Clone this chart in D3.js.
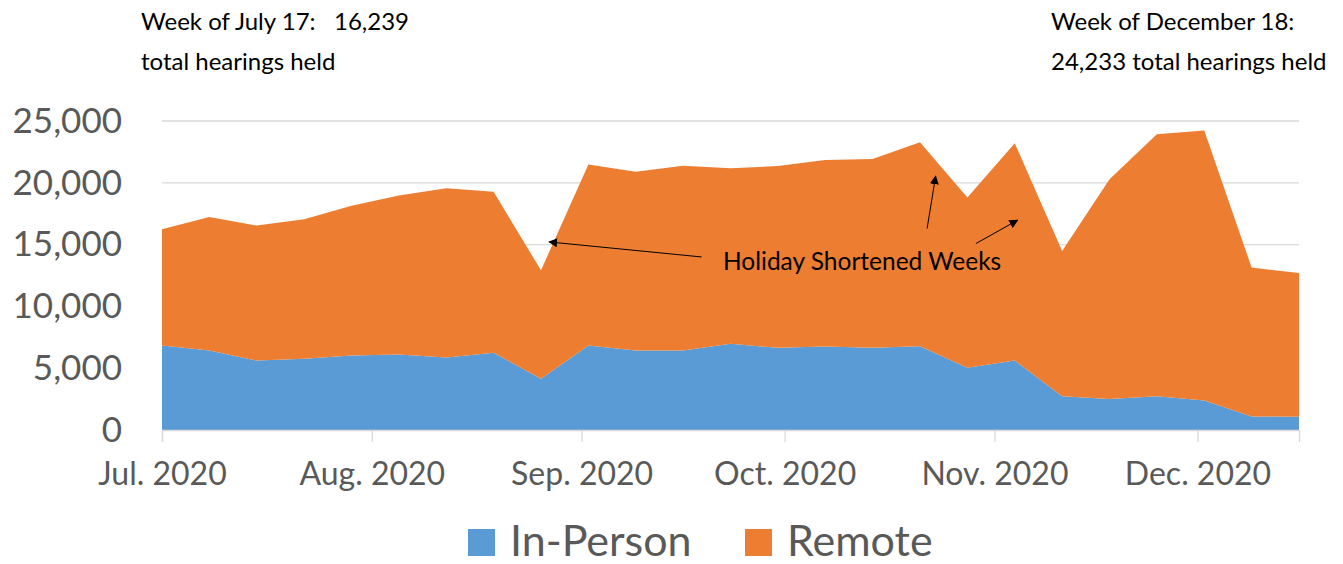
<!DOCTYPE html>
<html>
<head>
<meta charset="utf-8">
<script src="https://cdn.jsdelivr.net/npm/d3@7.9.0/dist/d3.min.js"></script>
<style>
  html, body { margin: 0; padding: 0; background: #fff; }
  svg { display: block; font-family: Lato, "Open Sans", sans-serif; }
</style>
</head>
<body>
<svg id="chart" width="1343" height="564"></svg>
<script>
// weekly hearings, week starting on the given Friday
const weeks = [
  '2020-07-17', '2020-07-24', '2020-07-31', '2020-08-07', '2020-08-14',
  '2020-08-21', '2020-08-28', '2020-09-04', '2020-09-11', '2020-09-18',
  '2020-09-25', '2020-10-02', '2020-10-09', '2020-10-16', '2020-10-23',
  '2020-10-30', '2020-11-06', '2020-11-13', '2020-11-20', '2020-11-27',
  '2020-12-04', '2020-12-11', '2020-12-18', '2020-12-25', '2021-01-01'
];
const inPerson = [
  6840, 6430, 5620, 5760, 6030, 6110, 5870, 6240, 4140, 6840,
  6430, 6430, 6970, 6650, 6760, 6650, 6780, 5030, 5620, 2730,
  2510, 2730, 2380, 1100, 1080
];
const remote = [
  9399, 10810, 10920, 11290, 12110, 12870, 13680, 13030, 8780, 14650,
  14460, 14950, 14200, 14700, 15080, 15270, 16500, 13790, 17580, 11760,
  17770, 21200, 21853, 12040, 11620
];
const seriesNames = ['In-Person', 'Remote'];
const seriesColors = ['#5B9BD5', '#ED7D31'];
const yTicks = [0, 5000, 10000, 15000, 20000, 25000];
const xTicks = ['2020-07-17', '2020-08-17', '2020-09-17', '2020-10-17', '2020-11-17', '2020-12-17'];

// arrows for the holiday note, [fromWeek, fromValue, toWeek, toValue] in week-index units
const holidayArrows = [
  [11.39, 14000, 8.17, 15215],
  [16.15, 16300, 16.33, 20540],
  [17.18, 15085, 18.06, 16975]
];

const parse = d3.utcParse('%Y-%m-%d');
const rows = weeks.map((w, i) => ({ date: parse(w), 'In-Person': inPerson[i], 'Remote': remote[i] }));

const svg = d3.select('#chart');
const plot = { left: 162, right: 1299, top: 121, bottom: 430 };

const x = d3.scaleUtc()
  .domain([parse(weeks[0]), parse(weeks[weeks.length - 1])])
  .range([plot.left, plot.right]);
const y = d3.scaleLinear().domain([0, 25000]).range([plot.bottom, plot.top]);
const xi = d3.scaleLinear().domain([0, weeks.length - 1]).range([plot.left, plot.right]);

// gridlines
svg.append('g')
  .selectAll('line')
  .data(yTicks.filter(d => d > 0))
  .join('line')
  .attr('x1', plot.left).attr('x2', plot.right)
  .attr('y1', d => y(d)).attr('y2', d => y(d))
  .attr('stroke', '#d9d9d9').attr('stroke-width', 1.3);

// stacked areas
const stack = d3.stack().keys(seriesNames);
const layers = stack(rows);
const area = d3.area()
  .x(d => x(d.data.date))
  .y0(d => y(d[0]))
  .y1(d => y(d[1]));

svg.append('g')
  .selectAll('path')
  .data(layers)
  .join('path')
  .attr('d', area)
  .attr('fill', (d, i) => seriesColors[i]);

// x axis
const xAxis = d3.axisBottom(x)
  .tickValues(xTicks.map(parse))
  .tickFormat(d3.utcFormat('%b. %Y'))
  .tickSize(12)
  .tickPadding(20);
const gx = svg.append('g').attr('transform', `translate(0,${plot.bottom})`).call(xAxis);
gx.select('.domain').attr('stroke', '#d9d9d9').attr('stroke-width', 1.3);
gx.selectAll('.tick line').attr('stroke', '#d9d9d9').attr('stroke-width', 1.3);
gx.selectAll('.tick text')
  .attr('fill', '#595959')
  .attr('font-size', 32)
  .attr('font-family', 'Lato, sans-serif');

// y axis
const yAxis = d3.axisLeft(y)
  .tickValues(yTicks)
  .tickFormat(d3.format(','))
  .tickSize(0)
  .tickPadding(40);
const gy = svg.append('g').attr('transform', `translate(${plot.left},0)`).call(yAxis);
gy.select('.domain').remove();
gy.selectAll('.tick text')
  .attr('fill', '#595959')
  .attr('font-size', 35)
  .attr('font-family', 'Lato, sans-serif');

// legend
const legend = svg.append('g').attr('transform', 'translate(468,529)');
const legendX = [0, 277];
seriesNames.forEach((name, i) => {
  const g = legend.append('g').attr('transform', `translate(${legendX[i]},0)`);
  g.append('rect').attr('width', 27).attr('height', 27).attr('fill', seriesColors[i]);
  g.append('text')
    .attr('x', 42).attr('y', 27)
    .attr('fill', '#595959')
    .attr('font-size', 43)
    .text(name);
});

// annotations
const note = svg.append('g').attr('font-size', 24).attr('fill', '#000');
note.append('text').attr('x', 141).attr('y', 30).attr('xml:space', 'preserve').text('Week of July 17:   16,239');
note.append('text').attr('x', 141).attr('y', 70).text('total hearings held');
note.append('text').attr('x', 1051).attr('y', 30).text('Week of December 18:');
note.append('text').attr('x', 1051).attr('y', 70).text('24,233 total hearings held');
note.append('text').attr('x', 723).attr('y', 270).attr('font-size', 24.5).text('Holiday Shortened Weeks');

svg.append('defs').append('marker')
  .attr('id', 'arrow')
  .attr('viewBox', '0 0 10 10')
  .attr('refX', 9).attr('refY', 5)
  .attr('markerWidth', 9).attr('markerHeight', 9)
  .attr('markerUnits', 'userSpaceOnUse')
  .attr('orient', 'auto')
  .append('path').attr('d', 'M0,0L10,5L0,10z').attr('fill', '#000');

svg.append('g')
  .selectAll('line')
  .data(holidayArrows)
  .join('line')
  .attr('x1', d => xi(d[0])).attr('y1', d => y(d[1]))
  .attr('x2', d => xi(d[2])).attr('y2', d => y(d[3]))
  .attr('stroke', '#000').attr('stroke-width', 1)
  .attr('marker-end', 'url(#arrow)');
</script>
</body>
</html>
